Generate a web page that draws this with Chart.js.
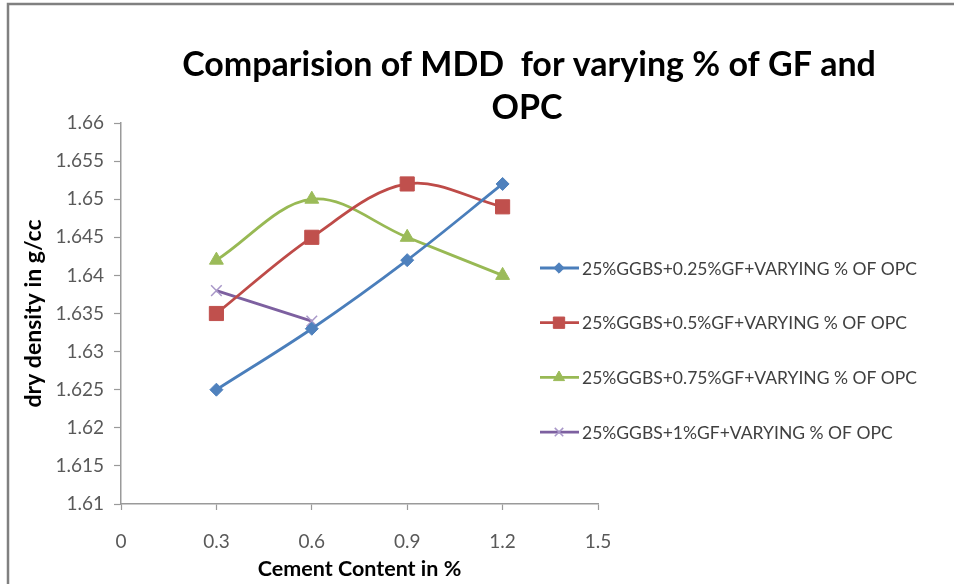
<!DOCTYPE html>
<html>
<head>
<meta charset="utf-8">
<script src="https://cdn.jsdelivr.net/npm/chart.js@4/dist/chart.umd.min.js"></script>
<style>
  html, body { margin: 0; padding: 0; background: #ffffff; }
  #wrap { width: 954px; height: 584px; position: relative; }
</style>
</head>
<body>
<div id="wrap"><canvas id="c" width="954" height="584"></canvas></div>
<script>
// Cement content (%) on the x axis
const cementContent = [0.3, 0.6, 0.9, 1.2];

// Maximum dry density (g/cc) for each glass-fibre dosage
const gf025 = [1.625, 1.633, 1.642, 1.652];
const gf050 = [1.635, 1.645, 1.652, 1.649];
const gf075 = [1.642, 1.650, 1.645, 1.640];
const gf100 = [1.638, 1.634];

const seriesNames = [
  '25%GGBS+0.25%GF+VARYING % OF OPC',
  '25%GGBS+0.5%GF+VARYING % OF OPC',
  '25%GGBS+0.75%GF+VARYING % OF OPC',
  '25%GGBS+1%GF+VARYING % OF OPC'
];

const xTickValues = [0, 0.3, 0.6, 0.9, 1.2, 1.5];
const yTickValues = [1.61, 1.615, 1.62, 1.625, 1.63, 1.635, 1.64, 1.645, 1.65, 1.655, 1.66];

const titleLines = ['Comparision of MDD  for varying % of GF and', 'OPC'];
const xTitle = 'Cement Content in %';
const yTitle = 'dry density in g/cc';

const FONT = 'Lato, "Open Sans", sans-serif';

function pts(values) {
  return values.map((v, i) => ({ x: cementContent[i], y: v }));
}

const styles = [
  { line: '#4a7ebb', fill: '#4f81bd', point: 'rectRot', r: 6.5 },
  { line: '#be4b48', fill: '#c0504d', point: 'rect', r: 10 },
  { line: '#98b954', fill: '#9bbb59', point: 'triangle', r: 8 },
  { line: '#7d60a0', fill: '#a897c8', point: 'crossRot', r: 7.5 }
];
const seriesValues = [gf025, gf050, gf075, gf100];

const datasets = seriesValues.map((vals, i) => ({
  label: seriesNames[i],
  data: pts(vals),
  borderColor: styles[i].line,
  borderWidth: 2.8,
  backgroundColor: styles[i].fill,
  pointStyle: styles[i].point,
  pointRadius: styles[i].r,
  pointBorderColor: styles[i].fill,
  pointBackgroundColor: styles[i].fill,
  pointBorderWidth: styles[i].point === 'crossRot' ? 1.5 : 1,
  tension: 0.35,
  fill: false
}));

// Frame, title and legend drawn around the plot
const decorations = {
  id: 'decorations',
  beforeDraw(chart) {
    const ctx = chart.ctx;
    ctx.save();
    ctx.fillStyle = '#ffffff';
    ctx.fillRect(0, 0, chart.width, chart.height);
    ctx.strokeStyle = '#808080';
    ctx.lineWidth = 2.5;
    ctx.beginPath();
    ctx.moveTo(8, chart.height);
    ctx.lineTo(8, 4);
    ctx.lineTo(chart.width, 4);
    ctx.stroke();
    ctx.restore();
  },
  afterDraw(chart) {
    const ctx = chart.ctx;
    ctx.save();
    // title
    ctx.fillStyle = '#000000';
    ctx.font = 'bold 34px ' + FONT;
    ctx.textAlign = 'center';
    ctx.textBaseline = 'alphabetic';
    ctx.fillText(titleLines[0], 529, 76);
    ctx.fillText(titleLines[1], 527, 119);

    // legend: line sample with its marker, then the series name
    ctx.textAlign = 'left';
    ctx.textBaseline = 'middle';
    const top = 268, gap = 54.7;
    chart.data.datasets.forEach((ds, i) => {
      const y = top + i * gap;
      ctx.strokeStyle = ds.borderColor;
      ctx.lineWidth = 2.8;
      ctx.beginPath();
      ctx.moveTo(540, y);
      ctx.lineTo(579, y);
      ctx.stroke();
      ctx.save();
      ctx.fillStyle = ds.pointBackgroundColor;
      ctx.strokeStyle = ds.pointBorderColor;
      ctx.lineWidth = ds.pointBorderWidth;
      Chart.helpers.drawPoint(ctx, {
        pointStyle: ds.pointStyle,
        radius: ds.pointRadius * 0.8,
        borderWidth: ds.pointBorderWidth,
        rotation: 0
      }, 559, y);
      ctx.restore();
      ctx.font = '17.5px ' + FONT;
      ctx.fillStyle = '#404040';
      ctx.fillText(ds.label, 582, y + 1);
    });
    ctx.restore();
  }
};

new Chart(document.getElementById('c'), {
  type: 'line',
  data: { datasets },
  options: {
    responsive: false,
    animation: false,
    layout: { padding: { top: 123, left: 10, right: 356, bottom: 0 } },
    plugins: {
      legend: { display: false },
      title: { display: false },
      tooltip: { enabled: false }
    },
    scales: {
      x: {
        type: 'linear',
        min: 0,
        max: 1.5,
        afterBuildTicks(scale) { scale.ticks = xTickValues.map(v => ({ value: v })); },
        afterFit(scale) { scale.height = 80; },
        border: { color: '#9a9a9a', width: 1.5 },
        grid: { drawOnChartArea: false, tickLength: 6, color: '#9a9a9a', tickWidth: 1.2 },
        ticks: {
          color: '#595959',
          font: { family: FONT, size: 19 },
          padding: 20,
          maxRotation: 0,
          callback: (v) => String(+v.toFixed(2))
        },
        title: {
          display: true,
          text: xTitle,
          color: '#000000',
          font: { family: FONT, size: 21.5, weight: 'bold' },
          padding: { top: 0, bottom: 2 }
        }
      },
      y: {
        type: 'linear',
        min: 1.61,
        max: 1.66,
        afterBuildTicks(scale) { scale.ticks = yTickValues.map(v => ({ value: v })); },
        afterFit(scale) { scale.width = 111; },
        border: { color: '#9a9a9a', width: 1.5 },
        grid: { drawOnChartArea: false, tickLength: 7, color: '#9a9a9a', tickWidth: 1.2 },
        ticks: {
          color: '#595959',
          font: { family: FONT, size: 19 },
          padding: 10,
          callback: (v) => String(+v.toFixed(3))
        },
        title: {
          display: true,
          text: yTitle,
          color: '#000000',
          font: { family: FONT, size: 23, weight: 'bold' },
          padding: { top: 10, bottom: 0 }
        }
      }
    }
  },
  plugins: [decorations]
});
</script>
</body>
</html>
